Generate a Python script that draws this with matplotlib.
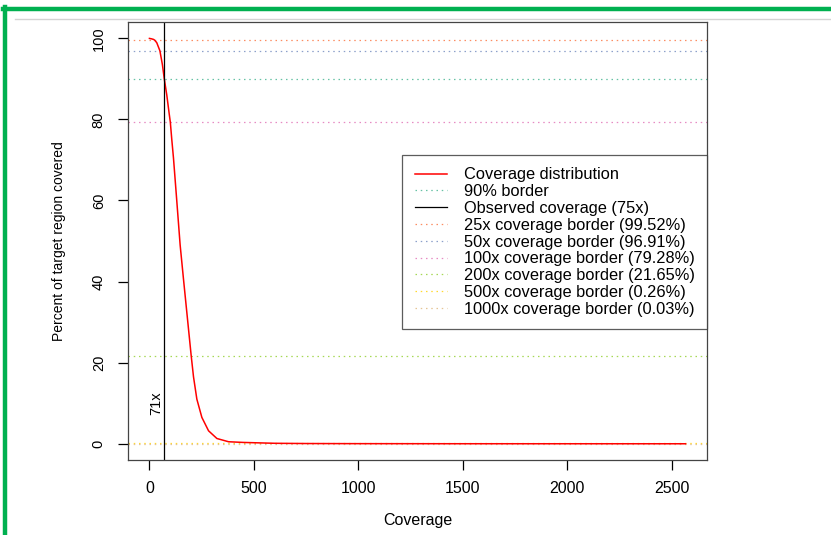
"""Coverage distribution with coverage border lines"""

import matplotlib

matplotlib.use("Agg")
from matplotlib import pyplot as plt
from matplotlib.lines import Line2D

# curve
coverage = [0, 10, 20, 25, 35, 50, 62, 71, 83, 95, 100, 107, 115, 130, 147,
            163, 179, 200, 211, 227, 251, 283, 323, 379, 450, 500, 600, 750,
            1000, 1500, 2000, 2567]
percent_covered = [99.95, 99.85, 99.7, 99.52, 98.9, 96.91, 93.5, 90.0, 86.0,
                   81.2, 79.28, 75.0, 70.5, 60.5, 49.0, 40.6, 32.4, 21.65,
                   16.5, 11.0, 6.5, 3.2, 1.3, 0.5, 0.33, 0.26, 0.12, 0.06,
                   0.03, 0.01, 0.005, 0.002]

border_90 = 90
observed_label = "Observed coverage (75x)"
line_at = 71

border_labels = ["25x coverage border (99.52%)", "50x coverage border (96.91%)",
                 "100x coverage border (79.28%)", "200x coverage border (21.65%)",
                 "500x coverage border (0.26%)", "1000x coverage border (0.03%)"]
border_values = [99.52, 96.91, 79.28, 21.65, 0.26, 0.03]
border_colors = ["#FC8D62", "#8DA0CB", "#E78AC3", "#A6D854", "#FFD92F", "#E5C494"]

DOT = (0, (1.2, 3))

plt.rcParams["font.family"] = ["Liberation Sans", "DejaVu Sans"]

fig = plt.figure(figsize=(8.31, 5.35), dpi=100)
ax = fig.add_axes([128 / 831, 75 / 535, 579 / 831, 438 / 535])

# page decorations from the screenshot
fig.add_artist(Line2D([3 / 831, 1], [1 - 9 / 535] * 2, color="#00B050", lw=3.2))
fig.add_artist(Line2D([5 / 831] * 2, [0, 1 - 7 / 535], color="#00B050", lw=3.2))
fig.add_artist(Line2D([15 / 831, 1], [1 - 19 / 535] * 2, color="#D3D3D3", lw=1))

ax.axhline(border_90, color="#66C2A5", lw=0.9, ls=DOT)
for val, col in zip(border_values, border_colors):
    ax.axhline(val, color=col, lw=0.9, ls=DOT)
ax.plot(coverage, percent_covered, color="red", lw=1.1)
ax.axvline(line_at, color="black", lw=0.9)
ax.text(line_at - 5, 10, f"{line_at}x", rotation=90, ha="right", va="center",
        fontsize=10.5)

xmax = coverage[-1]
ax.set_xlim(-0.04 * xmax, 1.04 * xmax)
ax.set_ylim(-4, 104)
ax.set_xticks([0, 500, 1000, 1500, 2000, 2500])
ax.set_yticks([0, 20, 40, 60, 80, 100])
ax.tick_params(axis="x", length=7, width=0.9, pad=8, labelsize=11.5)
ax.tick_params(axis="y", length=7, width=0.9, pad=9, labelsize=10.5)
for lab in ax.get_yticklabels():
    lab.set_rotation(90)
    lab.set_va("center")
for sp in ax.spines.values():
    sp.set_color("#444")
    sp.set_linewidth(0.9)

ax.set_xlabel("Coverage", fontsize=11.5, va="center")
ax.xaxis.set_label_coords(0.5, (460 - 520) / 438)
ax.set_ylabel("Percent of target region covered", fontsize=10, va="center")
ax.yaxis.set_label_coords((59 - 128) / 579, 0.5)

handles = [Line2D([], [], color="red", lw=1.1),
           Line2D([], [], color="#66C2A5", lw=0.9, ls=DOT),
           Line2D([], [], color="black", lw=0.9)]
handles += [Line2D([], [], color=c, lw=0.9, ls=DOT) for c in border_colors]
labels = ["Coverage distribution", "90% border", observed_label] + border_labels
leg = ax.legend(handles, labels, loc="upper right",
                bbox_to_anchor=(1.0, (460 - 155) / 438), fontsize=11.8,
                frameon=True, fancybox=False, borderaxespad=0, borderpad=0.75,
                handlelength=2.0, handletextpad=1.0, labelspacing=0.11)
leg.get_frame().set_edgecolor("#333")
leg.get_frame().set_linewidth(0.9)

fig.savefig("out.png", dpi=100)
